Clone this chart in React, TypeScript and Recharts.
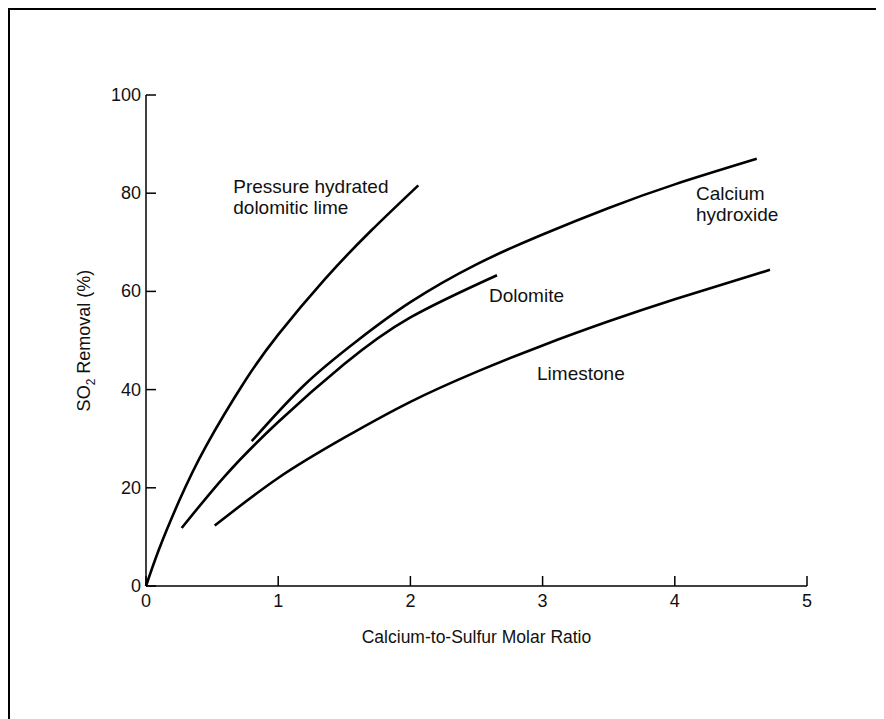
import React from 'react';
import { LineChart, Line, XAxis, YAxis, ReferenceDot } from 'recharts';

// Data (Calcium-to-Sulfur Molar Ratio vs SO2 Removal %)
const pressureHydrated = [
  { x: 0, y: 0 },
  { x: 0.1, y: 7.6 },
  { x: 0.25, y: 17.3 },
  { x: 0.45, y: 28.3 },
  { x: 0.75, y: 41.8 },
  { x: 1.0, y: 51.2 },
  { x: 1.35, y: 62.4 },
  { x: 1.7, y: 72.3 },
  { x: 2.06, y: 81.6 },
];

const calciumHydroxide = [
  { x: 0.8, y: 29.5 },
  { x: 1.2, y: 41 },
  { x: 1.6, y: 50 },
  { x: 2.0, y: 57.8 },
  { x: 2.5, y: 65.5 },
  { x: 3.0, y: 71.6 },
  { x: 3.5, y: 77 },
  { x: 4.0, y: 81.8 },
  { x: 4.62, y: 87 },
];

const dolomite = [
  { x: 0.27, y: 11.8 },
  { x: 0.6, y: 22.5 },
  { x: 1.0, y: 33.4 },
  { x: 1.5, y: 45.2 },
  { x: 2.0, y: 54.7 },
  { x: 2.655, y: 63.3 },
];

const limestone = [
  { x: 0.52, y: 12.3 },
  { x: 1.0, y: 22 },
  { x: 1.5, y: 30.2 },
  { x: 2.0, y: 37.5 },
  { x: 2.5, y: 43.6 },
  { x: 3.0, y: 49 },
  { x: 3.5, y: 53.9 },
  { x: 4.0, y: 58.4 },
  { x: 4.72, y: 64.4 },
];

const xTicks = [0, 1, 2, 3, 4, 5];
const yTicks = [0, 20, 40, 60, 80, 100];

const curveLabels = [
  { x: 0.66, y: 80.0, lines: ['Pressure hydrated', 'dolomitic lime'] },
  { x: 4.16, y: 78.6, lines: ['Calcium', 'hydroxide'] },
  { x: 2.595, y: 57.8, lines: ['Dolomite'] },
  { x: 2.958, y: 41.95, lines: ['Limestone'] },
];

const xTitle = 'Calcium-to-Sulfur Molar Ratio';

const FONT = '"Liberation Sans", Arial, Helvetica, sans-serif';
const TEXT = '#111';
const TICK_LEN = 10;

const CHART_W = 874;
const CHART_H = 709;
const MARGIN = { top: 85, right: 77, left: 76, bottom: 103 };
const Y_AXIS_W = 60;
const X_AXIS_H = 30;
const PLOT_LEFT = MARGIN.left + Y_AXIS_W;
const PLOT_BOTTOM = CHART_H - MARGIN.bottom - X_AXIS_H;

const XTick = (props: any) => {
  const { x, payload } = props;
  return (
    <g>
      <line x1={x} x2={x} y1={PLOT_BOTTOM} y2={PLOT_BOTTOM - TICK_LEN} stroke="#000" strokeWidth={1.5} />
      <text x={x} y={PLOT_BOTTOM + 15} textAnchor="middle" dominantBaseline="central" fontSize={18} fill={TEXT} fontFamily={FONT}>
        {payload.value}
      </text>
    </g>
  );
};

const YTick = (props: any) => {
  const { y, payload } = props;
  return (
    <g>
      <line x1={PLOT_LEFT} x2={PLOT_LEFT + TICK_LEN} y1={y} y2={y} stroke="#000" strokeWidth={1.5} />
      <text x={PLOT_LEFT - 5} y={y} textAnchor="end" dominantBaseline="central" fontSize={18} fill={TEXT} fontFamily={FONT}>
        {payload.value}
      </text>
    </g>
  );
};

const YTitle = (props: any) => {
  const vb = props.viewBox || {};
  const cx = vb.x - 2;
  const cy = vb.y + vb.height / 2;
  return (
    <text
      x={cx}
      y={cy}
      transform={`rotate(-90 ${cx} ${cy})`}
      textAnchor="middle"
      dominantBaseline="central"
      fontSize={18}
      fill={TEXT}
      fontFamily={FONT}
    >
      SO<tspan baselineShift="sub" fontSize={12}>2</tspan> Removal (%)
    </text>
  );
};

const XTitle = (props: any) => {
  const vb = props.viewBox || {};
  const cx = vb.x + vb.width / 2;
  const cy = vb.y + vb.height + 21;
  return (
    <text x={cx} y={cy} textAnchor="middle" dominantBaseline="central" fontSize={17.5} fill={TEXT} fontFamily={FONT}>
      {xTitle}
    </text>
  );
};

const makeCurveLabel = (lines: string[]) => (props: any) => {
  const vb = props.viewBox || {};
  const x = vb.x + (vb.width || 0) / 2;
  const y = vb.y + (vb.height || 0) / 2;
  return (
    <text x={x} y={y} fontSize={19} fill={TEXT} fontFamily={FONT}>
      {lines.map((l, i) => (
        <tspan key={i} x={x} dy={i === 0 ? 0 : 21}>
          {l}
        </tspan>
      ))}
    </text>
  );
};

const series = [pressureHydrated, calciumHydroxide, dolomite, limestone];

export default function App() {
  return (
    <>
      <style>{`html,body{overflow:hidden;}`}</style>
      <div
        style={{
          width: 876,
          height: 711,
          boxSizing: 'border-box',
          borderTop: '2px solid #000',
          borderLeft: '2px solid #000',
          background: '#fff',
        }}
      >
        <LineChart width={CHART_W} height={CHART_H} margin={MARGIN}>
          <XAxis
            type="number"
            dataKey="x"
            domain={[0, 5]}
            ticks={xTicks}
            interval={0}
            height={X_AXIS_H}
            axisLine={{ stroke: '#000', strokeWidth: 1.5 }}
            tickLine={false}
            tick={<XTick />}
            allowDuplicatedCategory={false}
            label={{ content: <XTitle /> }}
          />
          <YAxis
            type="number"
            dataKey="y"
            domain={[0, 100]}
            ticks={yTicks}
            interval={0}
            width={Y_AXIS_W}
            axisLine={{ stroke: '#000', strokeWidth: 1.5 }}
            tickLine={false}
            tick={<YTick />}
            label={{ content: <YTitle /> }}
          />
          {series.map((d, i) => (
            <Line
              key={i}
              data={d}
              dataKey="y"
              type="natural"
              stroke="#000"
              strokeWidth={2.6}
              dot={false}
              activeDot={false}
              isAnimationActive={false}
            />
          ))}
          {curveLabels.map((c, i) => (
            <ReferenceDot
              key={'l' + i}
              x={c.x}
              y={c.y}
              r={0}
              fill="none"
              stroke="none"
              ifOverflow="visible"
              label={{ content: makeCurveLabel(c.lines) }}
            />
          ))}
        </LineChart>
      </div>
    </>
  );
}
